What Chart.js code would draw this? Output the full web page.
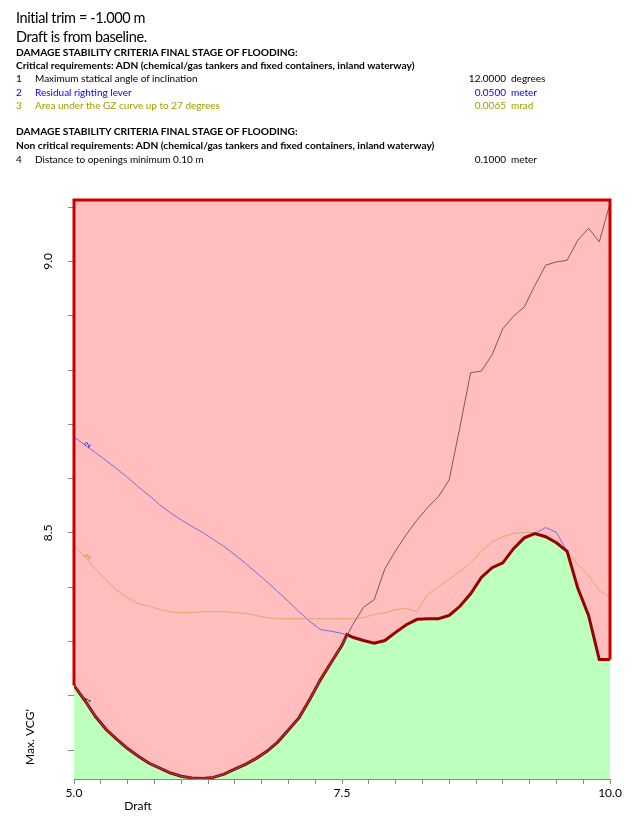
<!DOCTYPE html>
<html>
<head>
<meta charset="utf-8">
<script src="https://cdn.jsdelivr.net/npm/chart.js@4.4.1/dist/chart.umd.min.js"></script>
<style>
  body { margin: 0; background: #fff; font-family: Lato, "Open Sans", sans-serif; }
  #wrap { position: relative; width: 640px; height: 824px; }
  #chart { position: absolute; left: 0; top: 0; }
  .ln { position: absolute; left: 16px; white-space: nowrap; color: #000; z-index: 2; }
  .big { font-size: 14.5px; line-height: 16px; letter-spacing: -0.4px; }
  .sm { font-size: 10px; line-height: 11px; }
  .b { font-weight: bold; font-size: 10.2px; }
  .num { position: absolute; left: 0; }
  .txt { position: absolute; left: 19px; }
  .val { position: absolute; right: -490px; width: 80px; text-align: right; }
  .unit { position: absolute; left: 495px; }
  .blue { color: #0000ff; }
  .olive { color: #a0a000; }
</style>
</head>
<body>
<div id="wrap">
  <div class="ln big" style="top:10px">Initial trim = -1.000 m</div>
  <div class="ln big" style="top:29px">Draft is from baseline.</div>
  <div class="ln sm b" style="top:47px">DAMAGE STABILITY CRITERIA FINAL STAGE OF FLOODING:</div>
  <div class="ln sm b" style="top:60px">Critical requirements: ADN (chemical/gas tankers and fixed containers, inland waterway)</div>
  <div class="ln sm" style="top:73px"><span class="num">1</span><span class="txt">Maximum statical angle of inclination</span><span class="val">12.0000</span><span class="unit">degrees</span></div>
  <div class="ln sm blue" style="top:87px"><span class="num">2</span><span class="txt">Residual righting lever</span><span class="val">0.0500</span><span class="unit">meter</span></div>
  <div class="ln sm olive" style="top:100px"><span class="num">3</span><span class="txt">Area under the GZ curve up to 27 degrees</span><span class="val">0.0065</span><span class="unit">mrad</span></div>
  <div class="ln sm b" style="top:126px">DAMAGE STABILITY CRITERIA FINAL STAGE OF FLOODING:</div>
  <div class="ln sm b" style="top:140px">Non critical requirements: ADN (chemical/gas tankers and fixed containers, inland waterway)</div>
  <div class="ln sm" style="top:154px"><span class="num">4</span><span class="txt">Distance to openings minimum 0.10 m</span><span class="val">0.1000</span><span class="unit">meter</span></div>
  <canvas id="chart" width="640" height="824"></canvas>
</div>
<script>
const Y_MIN = 8.047;
const Y_MAX = 9.113;

const drafts = [5.0, 5.1, 5.2, 5.3, 5.4, 5.5, 5.6, 5.7, 5.8, 5.9,
  6.0, 6.1, 6.2, 6.3, 6.4, 6.5, 6.6, 6.7, 6.8, 6.9,
  7.0, 7.1, 7.2, 7.3, 7.4, 7.5, 7.6, 7.7, 7.8, 7.9,
  8.0, 8.1, 8.2, 8.3, 8.4, 8.5, 8.6, 8.7, 8.8, 8.9,
  9.0, 9.1, 9.2, 9.3, 9.4, 9.5, 9.6, 9.7, 9.8, 9.9, 10.0];

// 1 - maximum statical angle of inclination
const vcgAngle = [8.219, 8.192, 8.162, 8.138, 8.120, 8.103, 8.089, 8.076, 8.067, 8.058,
  8.052, 8.049, 8.048, 8.050, 8.056, 8.065, 8.074, 8.085, 8.098, 8.115,
  8.137, 8.160, 8.194, 8.230, 8.262, 8.293, 8.331, 8.363, 8.377, 8.434,
  8.467, 8.497, 8.524, 8.547, 8.567, 8.598, 8.695, 8.795, 8.798, 8.828,
  8.876, 8.899, 8.916, 8.956, 8.993, 8.999, 9.002, 9.039, 9.061, 9.036, 9.107];

// 2 - residual righting lever
const vcgLever = [8.677, 8.662, 8.648, 8.633, 8.618, 8.602, 8.585, 8.569, 8.552, 8.537,
  8.524, 8.512, 8.501, 8.488, 8.475, 8.460, 8.444, 8.427, 8.410, 8.392,
  8.374, 8.355, 8.337, 8.322, 8.319, 8.315, 8.308, 8.302, 8.297, 8.302,
  8.317, 8.331, 8.341, 8.342, 8.342, 8.348, 8.365, 8.388, 8.418, 8.436,
  8.445, 8.471, 8.491, 8.499, 8.510, 8.501, 8.466, 8.398, 8.348, 8.267, 8.267];

// 3 - area under the GZ curve
const vcgArea = [8.477, 8.456, 8.434, 8.414, 8.394, 8.381, 8.370, 8.365, 8.359, 8.355,
  8.353, 8.353, 8.355, 8.355, 8.355, 8.353, 8.352, 8.348, 8.344, 8.342,
  8.342, 8.342, 8.342, 8.342, 8.342, 8.342, 8.342, 8.344, 8.350, 8.353,
  8.359, 8.361, 8.355, 8.387, 8.401, 8.414, 8.429, 8.445, 8.466, 8.484,
  8.493, 8.499, 8.501, 8.501, 8.493, 8.482, 8.466, 8.442, 8.422, 8.394, 8.381];

// limiting max. VCG' (envelope)
const envDrafts = [5.0, 5.1, 5.2, 5.3, 5.4, 5.5, 5.6, 5.7, 5.8, 5.9,
  6.0, 6.1, 6.2, 6.3, 6.4, 6.5, 6.6, 6.7, 6.8, 6.9,
  7.0, 7.1, 7.2, 7.3, 7.4, 7.5, 7.547, 7.6, 7.7, 7.8, 7.9,
  8.0, 8.1, 8.2, 8.3, 8.4, 8.5, 8.6, 8.7, 8.8, 8.9,
  9.0, 9.1, 9.2, 9.3, 9.4, 9.5, 9.6, 9.7, 9.8, 9.9, 10.0];
const envVcg = [8.219, 8.192, 8.162, 8.138, 8.120, 8.103, 8.089, 8.076, 8.067, 8.058,
  8.052, 8.049, 8.048, 8.050, 8.056, 8.065, 8.074, 8.085, 8.098, 8.115,
  8.137, 8.160, 8.194, 8.230, 8.262, 8.293, 8.313, 8.308, 8.302, 8.297, 8.302,
  8.317, 8.331, 8.341, 8.342, 8.342, 8.348, 8.365, 8.388, 8.418, 8.436,
  8.445, 8.471, 8.491, 8.499, 8.493, 8.482, 8.466, 8.398, 8.348, 8.267, 8.267];

const xTicks = [5.0, 5.25, 5.5, 5.75, 6.0, 6.25, 6.5, 6.75, 7.0, 7.25, 7.5,
  7.75, 8.0, 8.25, 8.5, 8.75, 9.0, 9.25, 9.5, 9.75, 10.0];
const xLabels = [5.0, 7.5, 10.0];
const yTicks = [8.1, 8.2, 8.3, 8.4, 8.5, 8.6, 8.7, 8.8, 8.9, 9.0, 9.1];
const yLabels = [8.5, 9.0];

const PINK = "rgb(255,189,189)";
const GREEN = "rgb(189,255,189)";

function pts(xs, ys) {
  return xs.map((x, i) => ({ x: x, y: ys[i] }));
}

function hasLabel(list, v) {
  return list.some((l) => Math.abs(l - v) < 1e-6);
}

const curveTags = [
  { text: "1", color: "#000000", values: vcgAngle },
  { text: "2", color: "#0000ff", values: vcgLever },
  { text: "3", color: "#a0a000", values: vcgArea },
];

const extras = {
  id: "extras",
  afterDatasetsDraw(chart) {
    const { ctx, chartArea, scales } = chart;
    ctx.save();
    ctx.font = "8px Lato";
    ctx.textAlign = "center";
    ctx.textBaseline = "middle";
    curveTags.forEach((t) => {
      const px = scales.x.getPixelForValue(drafts[1]) + 3;
      const py = scales.y.getPixelForValue(t.values[1]);
      ctx.save();
      ctx.translate(px, py);
      ctx.rotate(-Math.PI / 3);
      ctx.fillStyle = t.color;
      ctx.fillText(t.text, 0, 0);
      ctx.restore();
    });
    ctx.fillStyle = "#000";
    ctx.font = "12px Lato";
    ctx.fillText("Draft", chartArea.left + 64, chartArea.bottom + 27);
    ctx.translate(30, chartArea.bottom - 42);
    ctx.rotate(-Math.PI / 2);
    ctx.fillText("Max. VCG'", 0, 0);
    ctx.restore();
  },
};

const thin = { pointRadius: 0, fill: false, tension: 0 };

new Chart(document.getElementById("chart"), {
  type: "line",
  data: {
    datasets: [
      { data: pts(envDrafts, envVcg), fill: "end", backgroundColor: PINK, borderWidth: 0, pointRadius: 0, order: 10 },
      { data: pts(envDrafts, envVcg), fill: "start", backgroundColor: GREEN, borderWidth: 0, pointRadius: 0, order: 9 },
      { data: pts(drafts, vcgLever), borderColor: "#7a6ee0", borderWidth: 1, order: 7, ...thin },
      { data: pts(drafts, vcgArea), borderColor: "#d9ab6c", borderWidth: 1, order: 6, ...thin },
      { data: pts(envDrafts, envVcg), borderColor: "#960000", borderWidth: 3, order: 5, ...thin },
      { data: pts(drafts, vcgAngle), borderColor: "#7a5a5a", borderWidth: 1, order: 1, ...thin },
      {
        data: [
          { x: drafts[0], y: envVcg[0] },
          { x: drafts[0], y: Y_MAX },
          { x: drafts[drafts.length - 1], y: Y_MAX },
          { x: drafts[drafts.length - 1], y: envVcg[envVcg.length - 1] },
        ],
        borderColor: "#c80000", borderWidth: 3, order: 0, clip: false, ...thin,
      },
    ],
  },
  options: {
    responsive: false,
    animation: false,
    devicePixelRatio: 1,
    layout: { padding: { top: 200, right: 30, left: 0, bottom: 0 } },
    plugins: { legend: { display: false }, tooltip: { enabled: false } },
    scales: {
      x: {
        type: "linear",
        min: 5,
        max: 10,
        afterBuildTicks: (s) => { s.ticks = xTicks.map((v) => ({ value: v })); },
        afterFit: (s) => { s.height = 45; },
        grid: { drawOnChartArea: false, color: "#888", tickLength: 5 },
        border: { color: "#888" },
        ticks: {
          autoSkip: false, maxRotation: 0, padding: 2, color: "#000",
          font: { family: "Lato", size: 12 },
          callback: (v) => (hasLabel(xLabels, v) ? v.toFixed(1) : ""),
        },
      },
      y: {
        type: "linear",
        min: Y_MIN,
        max: Y_MAX,
        afterBuildTicks: (s) => { s.ticks = yTicks.map((v) => ({ value: v })); },
        afterFit: (s) => { s.width = 74; },
        grid: { drawOnChartArea: false, color: "#888", tickLength: 6 },
        border: { color: "#888" },
        ticks: {
          autoSkip: false, minRotation: 90, maxRotation: 90, crossAlign: "center", padding: 11,
          color: "#000", font: { family: "Lato", size: 12 },
          callback: (v) => (hasLabel(yLabels, v) ? v.toFixed(1) : ""),
        },
      },
    },
  },
  plugins: [extras],
});
</script>
</body>
</html>
